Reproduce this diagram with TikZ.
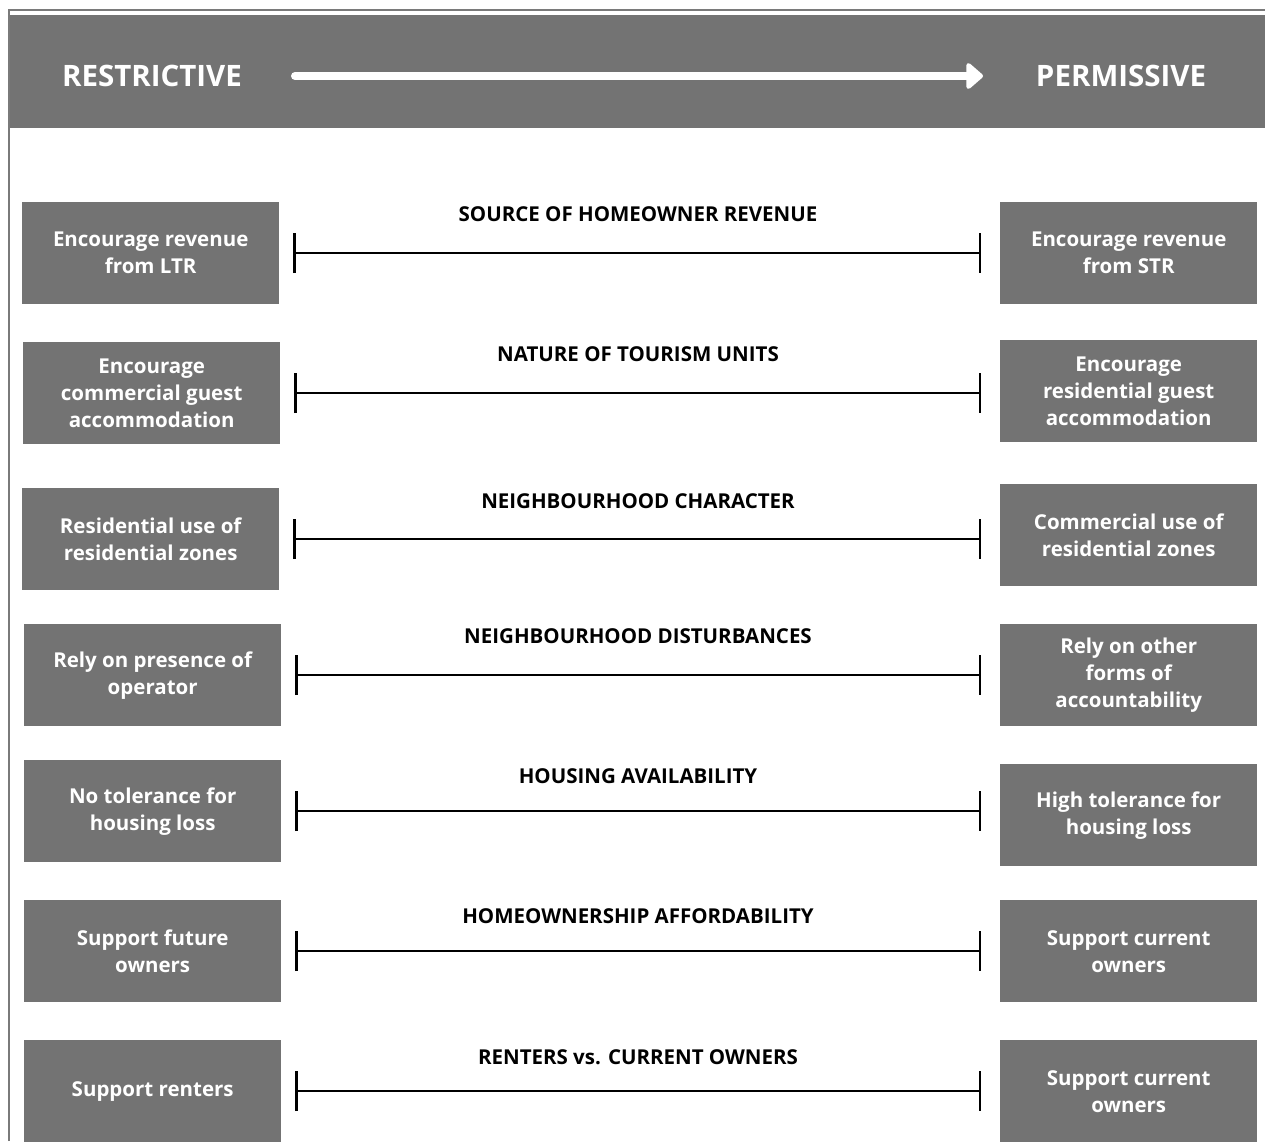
\documentclass[tikz,border=0pt]{standalone}
\usepackage{fontspec}
\setmainfont{Open Sans}
\usetikzlibrary{positioning, calc, arrows.meta}
\definecolor{boxgray}{HTML}{737373}
\definecolor{framegray}{HTML}{7A7A7A}
\newcommand{\boxw}{257pt}
\newcommand{\boxh}{102pt}
\tikzset{
%     shape
    pole/.style={fill=boxgray, text=white, minimum width=\boxw, minimum height=\boxh, inner sep=0pt, align=center, anchor=north west, font=\fontsize{20.5}{27}\selectfont\bfseries},
    heading/.style={text=white, inner sep=0pt, font=\fontsize{29.5}{32}\selectfont\bfseries},
    topic/.style={text=black, inner sep=0pt, font=\fontsize{20.5}{24}\selectfont\bfseries},
%     lines
    spanline/.style={{Bar[width=40pt]}-{Bar[width=40pt]}, line width=2.5pt, shorten <= 14pt, shorten >= 19pt},
    scale_arrow/.style={-{Triangle[round, length=18pt, width=30pt]}, white, line width=8pt, line cap=round},
}
\begin{document}
\begin{tikzpicture}[x=1pt, y=-1pt]
        \useasboundingbox (0,0) rectangle (1265,1141);
        % Frame and header
        \draw[framegray, line width=2pt] (9,1141) -- (9,10) -- (1265,10);
        \fill[boxgray] (10,15) rectangle (1265,128);
        \node (restrictive) [heading] at (152,76) {RESTRICTIVE};
        \node (permissive) [heading] at (1121,76) {PERMISSIVE};
        \coordinate (arrowstart) at (295,76);
        \coordinate (arrowend) at (983,76);
        \draw[scale_arrow] (arrowstart) -- (arrowend);

        % Row 1
        \node (left1) [pole] at (22,202) {Encourage revenue\\from LTR};
        \node (right1) [pole] at (1000,202) {Encourage revenue\\from STR};
        \node (topic1) [topic] at (638,214) {SOURCE OF HOMEOWNER REVENUE};
        \draw[spanline] (left1.east) -- (left1.east -| right1.west);
        % Row 2
        \node (left2) [pole] at (23,342) {Encourage\\commercial guest\\accommodation};
        \node (right2) [pole] at (1000,340) {Encourage\\residential guest\\accommodation};
        \node (topic2) [topic] at (638,354) {NATURE OF TOURISM UNITS};
        \draw[spanline] (left2.east) -- (left2.east -| right2.west);
        % Row 3
        \node (left3) [pole] at (22,488) {Residential use of\\residential zones};
        \node (right3) [pole] at (1000,484) {Commercial use of\\residential zones};
        \node (topic3) [topic] at (638,501) {NEIGHBOURHOOD CHARACTER};
        \draw[spanline] (left3.east) -- (left3.east -| right3.west);
        % Row 4
        \node (left4) [pole] at (24,624) {Rely on presence of\\operator};
        \node (right4) [pole] at (1000,624) {Rely on other\\forms of\\accountability};
        \node (topic4) [topic] at (638,636) {NEIGHBOURHOOD DISTURBANCES};
        \draw[spanline] (left4.east) -- (left4.east -| right4.west);
        % Row 5
        \node (left5) [pole] at (24,760) {No tolerance for\\housing loss};
        \node (right5) [pole] at (1000,764) {High tolerance for\\housing loss};
        \node (topic5) [topic] at (638,776) {HOUSING AVAILABILITY};
        \draw[spanline] (left5.east) -- (left5.east -| right5.west);
        % Row 6
        \node (left6) [pole] at (24,900) {Support future\\owners};
        \node (right6) [pole] at (1000,900) {Support current\\owners};
        \node (topic6) [topic] at (638,916) {HOMEOWNERSHIP AFFORDABILITY};
        \draw[spanline] (left6.east) -- (left6.east -| right6.west);
        % Row 7
        \node (left7) [pole] at (24,1040) {Support renters};
        \node (right7) [pole] at (1000,1040) {Support current\\owners};
        \node (topic7) [topic] at (638,1057) {RENTERS vs. CURRENT OWNERS};
        \draw[spanline] (left7.east) -- (left7.east -| right7.west);
    \end{tikzpicture}
\end{document}
